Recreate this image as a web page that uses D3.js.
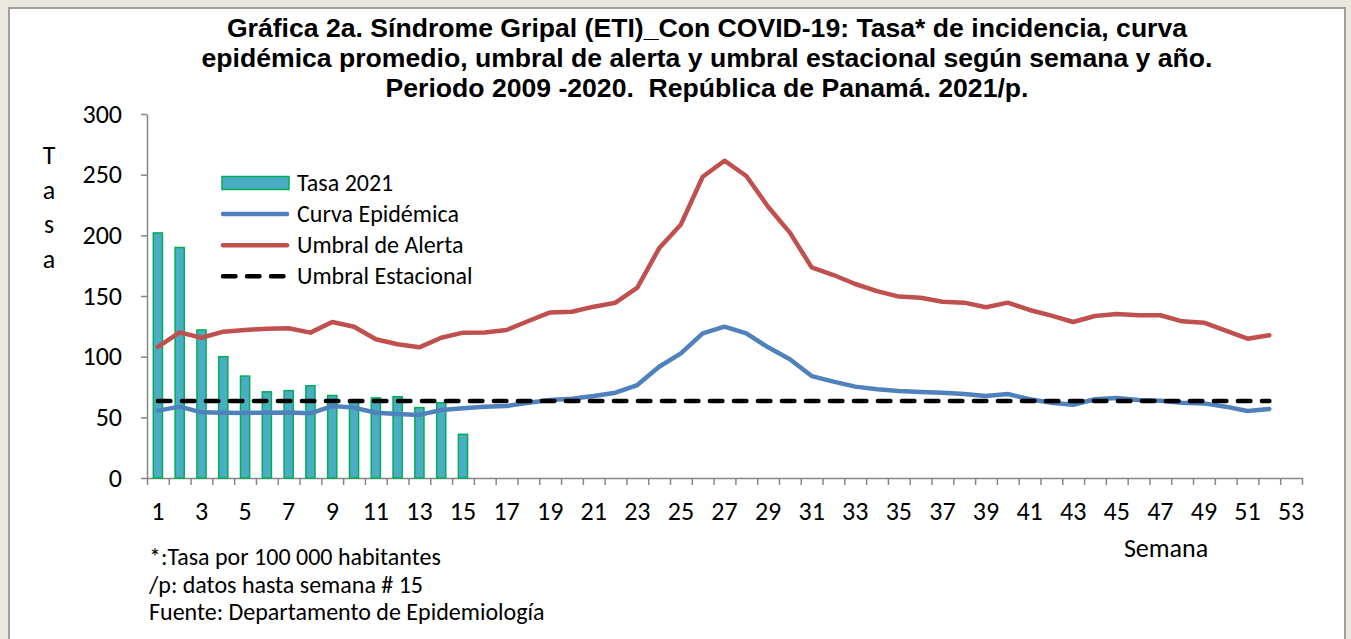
<!DOCTYPE html>
<html lang="es">
<head>
    <meta charset="UTF-8">
    <title>Gráfica 2a</title>
    <script src="https://d3js.org/d3.v7.min.js"></script>
    <style>
        body { margin: 0; background: #ebe8e0; }
        svg { display: block; }
        .lbl { font-family: Carlito, Lato, sans-serif; fill: #000; }
    </style>
</head>
<body>
    <svg width="1351" height="639"></svg>
    <script>
        // datos
        const semanas = d3.range(1, 54);
        const etiquetasX = [1, 3, 5, 7, 9, 11, 13, 15, 17, 19, 21, 23, 25, 27, 29, 31, 33, 35, 37, 39, 41, 43, 45, 47, 49, 51, 53];
        const ticksY = [0, 50, 100, 150, 200, 250, 300];

        const tasa2021 = [202, 190, 122, 100, 84, 71, 72, 76, 68, 63, 66, 67, 58, 62, 36];

        const curvaEpidemica = [55.5, 58.8, 54.1, 53.8, 53.6, 53.8, 54, 53.3, 59.3, 58, 53.8, 52.7, 52, 56, 57.4,
            58.8, 59.3, 62, 64.3, 65.4, 67.6, 70.3, 76.6, 91.7, 102.7, 119.2, 124.7, 119.2, 107.7, 97.8,
            84, 79.4, 75.3, 73.2, 71.7, 70.9, 70.3, 69.2, 67.6, 69.2, 64.9, 62.1, 60.4, 64.9, 65.9,
            64.3, 63.7, 62.1, 61.5, 58.8, 55.2, 56.9];

        const umbralAlerta = [108, 120, 115.6, 120.6, 122, 123, 123.4, 119.8, 128.6, 124.7, 114.3, 110.2, 107.7, 115.6, 119.8,
            120, 122, 129.4, 136.5, 137, 141.2, 144.5, 156.9, 189.3, 209, 248.3, 261.5, 248.9, 223.6, 202.2,
            173.6, 167.3, 159.9, 154, 149.5, 148.6, 145.3, 144.5, 140.7, 144.5, 138.5, 133.8, 128.6, 133.5, 135.2,
            134.1, 134.1, 129.1, 128, 121.4, 114.8, 117.6];

        const umbralEstacional = 63.5;
        const semanasEstacional = [1, 52];

        const svg = d3.select("svg");

        // marco blanco
        svg.append("rect")
            .attr("x", 9).attr("y", 8)
            .attr("width", 1336).attr("height", 640)
            .attr("fill", "#fff")
            .attr("stroke", "#a0a0a0")
            .attr("stroke-width", 2);

        // titulo
        const titulo = [
            "Gráfica 2a. Síndrome Gripal (ETI)_Con COVID-19: Tasa* de incidencia, curva",
            "epidémica promedio, umbral de alerta y umbral estacional según semana y año.",
            "Periodo 2009 -2020.  República de Panamá. 2021/p."
        ];
        svg.append("text")
            .attr("text-anchor", "middle")
            .style("font-family", "'Liberation Sans', Arial, sans-serif")
            .style("font-weight", "bold")
            .style("font-size", "26.6px")
            .style("white-space", "pre")
            .selectAll("tspan")
            .data(titulo)
            .join("tspan")
            .attr("x", 707)
            .attr("y", (d, i) => 37 + i * 30)
            .text(d => d);

        // escalas
        const x = d3.scaleBand().domain(semanas).range([147, 1302]).paddingInner(0).paddingOuter(0);
        const xLin = d3.scaleLinear().domain([0, 53]).range([147, 1302]);
        const y = d3.scaleLinear().domain([0, 300]).range([478, 114]);
        const cx = d => x(d) + x.bandwidth() / 2;

        // eje Y
        const gy = svg.append("g")
            .attr("transform", "translate(147,0)")
            .call(d3.axisLeft(y).tickValues(ticksY).tickSize(6).tickPadding(19).tickSizeOuter(0));
        gy.select(".domain").attr("stroke", "#868686").attr("stroke-width", 1.5);
        gy.selectAll(".tick line").attr("stroke", "#868686").attr("stroke-width", 1.5);
        gy.selectAll(".tick text")
            .attr("class", "lbl")
            .style("font-size", "26px");

        // eje X: marcas entre semanas
        const gx = svg.append("g")
            .attr("transform", "translate(0,478)")
            .call(d3.axisBottom(xLin).tickValues(d3.range(0, 54)).tickSize(7).tickFormat("").tickSizeOuter(0));
        gx.select(".domain").attr("stroke", "#868686").attr("stroke-width", 1.5);
        gx.selectAll(".tick line").attr("stroke", "#868686").attr("stroke-width", 1.5);

        // eje X: etiquetas
        const gxl = svg.append("g")
            .attr("transform", "translate(0,478)")
            .call(d3.axisBottom(x).tickValues(etiquetasX).tickSize(0).tickPadding(24));
        gxl.select(".domain").remove();
        gxl.selectAll(".tick text")
            .attr("class", "lbl")
            .style("font-size", "26px");

        // barras
        const anchoBarra = x.bandwidth() * 0.42;
        svg.append("g")
            .selectAll("rect")
            .data(tasa2021)
            .join("rect")
            .attr("x", (d, i) => cx(i + 1) - anchoBarra / 2)
            .attr("y", d => y(d))
            .attr("width", anchoBarra)
            .attr("height", d => y(0) - y(d))
            .attr("fill", "#4bacc6")
            .attr("stroke", "#00b050")
            .attr("stroke-width", 1.5);

        const linea = d3.line()
            .x((d, i) => cx(i + 1))
            .y(d => y(d));

        svg.append("path")
            .datum(curvaEpidemica)
            .attr("d", linea)
            .attr("fill", "none")
            .attr("stroke", "#4f81bd")
            .attr("stroke-width", 4.5)
            .attr("stroke-linejoin", "round")
            .attr("stroke-linecap", "round");

        svg.append("path")
            .datum(umbralAlerta)
            .attr("d", linea)
            .attr("fill", "none")
            .attr("stroke", "#c0504d")
            .attr("stroke-width", 4.5)
            .attr("stroke-linejoin", "round")
            .attr("stroke-linecap", "round");

        svg.append("line")
            .attr("x1", cx(semanasEstacional[0]))
            .attr("x2", cx(semanasEstacional[1]))
            .attr("y1", y(umbralEstacional))
            .attr("y2", y(umbralEstacional))
            .attr("stroke", "#000")
            .attr("stroke-width", 4.5)
            .attr("stroke-dasharray", "12.5,11.5")
            .attr("stroke-linecap", "round");

        // leyenda
        const leyenda = [
            { nombre: "Tasa 2021", tipo: "barra" },
            { nombre: "Curva Epidémica", tipo: "linea", color: "#4f81bd" },
            { nombre: "Umbral de Alerta", tipo: "linea", color: "#c0504d" },
            { nombre: "Umbral Estacional", tipo: "guion", color: "#000" }
        ];
        const gl = svg.append("g");
        leyenda.forEach((d, i) => {
            const cy = 183 + i * 31.1;
            if (d.tipo === "barra") {
                gl.append("rect")
                    .attr("x", 222).attr("y", cy - 6.5)
                    .attr("width", 67).attr("height", 13)
                    .attr("fill", "#4bacc6")
                    .attr("stroke", "#00b050")
                    .attr("stroke-width", 1.5);
            } else {
                gl.append("line")
                    .attr("x1", 223).attr("x2", 287)
                    .attr("y1", cy).attr("y2", cy)
                    .attr("stroke", d.color)
                    .attr("stroke-width", 4.5)
                    .attr("stroke-linecap", "round")
                    .attr("stroke-dasharray", d.tipo === "guion" ? "12.5,11.5" : null);
            }
            gl.append("text")
                .attr("class", "lbl")
                .attr("x", 297)
                .attr("y", cy + 7.5)
                .style("font-size", "24px")
                .text(d.nombre);
        });

        // titulo eje Y vertical
        svg.append("text")
            .attr("class", "lbl")
            .attr("text-anchor", "middle")
            .style("font-size", "26px")
            .selectAll("tspan")
            .data(["T", "a", "s", "a"])
            .join("tspan")
            .attr("x", 49)
            .attr("y", (d, i) => 164 + i * 34.5)
            .text(d => d);

        svg.append("text")
            .attr("class", "lbl")
            .attr("x", 1166)
            .attr("y", 557)
            .attr("text-anchor", "middle")
            .style("font-size", "26px")
            .text("Semana");

        // notas
        const notas = [
            "*:Tasa por 100 000 habitantes",
            "/p: datos hasta semana # 15",
            "Fuente: Departamento de Epidemiología"
        ];
        svg.append("g")
            .selectAll("text")
            .data(notas)
            .join("text")
            .attr("class", "lbl")
            .attr("x", 149)
            .attr("y", (d, i) => 565 + i * 27.5)
            .style("font-size", "24px")
            .text(d => d);
    </script>
</body>
</html>
